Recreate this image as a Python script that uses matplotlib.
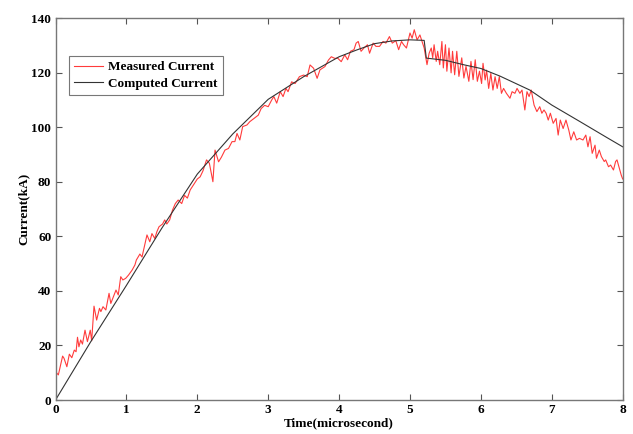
import numpy as np
import matplotlib
matplotlib.use('Agg')
import matplotlib.pyplot as plt

# Measured current, time in microseconds, current in kA
t_meas = [0.00, 0.04, 0.10, 0.12, 0.16, 0.195, 0.23, 0.265, 0.29, 0.31, 0.33, 0.355, 0.38,
          0.416, 0.45, 0.49, 0.51, 0.543, 0.58, 0.62, 0.64, 0.67, 0.71, 0.755, 0.78, 0.815,
          0.853, 0.885, 0.92, 0.95, 0.99, 1.03, 1.08, 1.12, 1.14, 1.19, 1.22, 1.29, 1.33,
          1.36, 1.40, 1.43, 1.46, 1.51, 1.54, 1.57, 1.61, 1.65, 1.69, 1.73, 1.78, 1.82, 1.86,
          1.90, 1.95, 2.00, 2.04, 2.08, 2.13, 2.17, 2.22, 2.25, 2.30, 2.34, 2.39, 2.44, 2.49,
          2.53, 2.56, 2.60, 2.64, 2.70, 2.74, 2.80, 2.86, 2.90, 2.95, 3.00, 3.05, 3.08, 3.12,
          3.17, 3.21, 3.25, 3.28, 3.33, 3.38, 3.44, 3.50, 3.55, 3.59, 3.64, 3.69, 3.73, 3.80,
          3.85, 3.89, 3.94, 3.98, 4.03, 4.08, 4.12, 4.16, 4.21, 4.24, 4.27, 4.31, 4.35, 4.40,
          4.43, 4.48, 4.52, 4.57, 4.62, 4.66, 4.71, 4.75, 4.80, 4.84, 4.88, 4.91, 4.95, 5.00,
          5.03, 5.06, 5.10, 5.14, 5.17, 5.20, 5.22, 5.24, 5.27, 5.30, 5.32, 5.34, 5.37, 5.39,
          5.42, 5.45, 5.47, 5.50, 5.52, 5.55, 5.58, 5.60, 5.63, 5.66, 5.69, 5.73, 5.76, 5.79,
          5.83, 5.86, 5.89, 5.92, 5.95, 5.98, 6.01, 6.03, 6.06, 6.08, 6.11, 6.14, 6.17, 6.20,
          6.23, 6.26, 6.29, 6.32, 6.36, 6.41, 6.44, 6.48, 6.51, 6.55, 6.58, 6.62, 6.65, 6.68,
          6.71, 6.75, 6.79, 6.83, 6.86, 6.89, 6.92, 6.95, 6.98, 7.02, 7.06, 7.09, 7.12, 7.16,
          7.20, 7.24, 7.27, 7.31, 7.35, 7.39, 7.44, 7.48, 7.51, 7.54, 7.57, 7.61, 7.63, 7.67,
          7.70, 7.74, 7.76, 7.80, 7.83, 7.87, 7.90, 7.92, 7.98, 8.00]
i_meas = [10.4, 9.2, 16.1, 15.3, 12.2, 16.8, 15.5, 18.3, 17.7, 23.0, 19.5, 22.0, 20.5,
          25.6, 21.4, 25.6, 21.7, 34.4, 29.3, 33.6, 32.4, 34.2, 33.0, 39.1, 35.4, 37.8,
          40.3, 38.5, 45.2, 44.0, 44.6, 45.8, 47.6, 49.5, 51.3, 53.5, 52.4, 60.5, 58.0,
          61.0, 59.2, 61.7, 63.5, 64.5, 66.0, 64.5, 66.0, 69.6, 72.0, 73.3, 72.0, 75.0, 74.0,
          77.0, 79.0, 81.0, 81.8, 84.0, 88.0, 86.8, 80.0, 91.6, 87.3, 89.0, 91.6, 92.2, 94.7,
          94.7, 97.7, 95.3, 100.2, 100.8, 102.0, 103.2, 104.4, 106.8, 108.0, 107.5, 110.0, 111.2, 108.8,
          113.0, 111.2, 114.2, 113.0, 116.6, 116.0, 118.5, 119.1, 118.5, 122.8, 121.6, 117.9, 121.0, 122.2,
          124.6, 125.8, 125.2, 125.3, 124.0, 126.5, 124.7, 127.8, 128.4, 130.8, 131.4, 127.8, 129.0, 130.2,
          127.1, 130.8, 129.6, 129.6, 131.4, 130.8, 133.2, 130.8, 131.7, 128.4, 131.4, 130.2, 129.0, 134.5,
          132.6, 135.7, 132.0, 133.8, 131.4, 129.0, 126.0, 122.9, 127.1, 129.0, 125.4, 130.2, 124.1, 127.8,
          122.9, 131.4, 121.7, 130.2, 120.5, 129.0, 119.9, 127.8, 119.2, 127.8, 118.6, 125.4, 118.0, 122.3,
          116.8, 124.1, 117.4, 124.7, 116.8, 120.5, 116.0, 123.4, 117.3, 120.9, 114.2, 119.7, 113.6, 118.5,
          114.2, 118.5, 112.4, 114.2, 112.4, 110.6, 113.0, 112.4, 114.2, 112.4, 113.6, 106.3, 113.0, 111.2,
          113.6, 108.1, 105.7, 107.5, 105.1, 106.3, 105.1, 102.6, 105.1, 101.4, 103.2, 97.1, 102.6, 99.5,
          102.6, 98.9, 95.3, 98.3, 95.3, 95.9, 95.3, 97.1, 92.8, 96.5, 90.4, 93.4, 88.6, 91.6,
          89.2, 87.4, 88.0, 85.5, 86.1, 84.3, 87.4, 88.0, 82.4, 81.0]

# Computed current
t_comp = [0.0, 0.5, 1.0, 1.5, 2.0, 2.5, 3.0, 3.5, 4.0, 4.25, 4.5, 4.75, 5.0, 5.2,
          5.23, 5.5, 5.77, 6.0, 6.27, 6.69, 7.0, 7.4, 7.77, 8.0]
i_comp = [0.0, 21.5, 42.0, 63.0, 82.8, 97.5, 110.2, 118.5, 125.8, 128.3, 130.6, 131.6, 132.0, 131.8,
          125.3, 124.5, 122.8, 121.5, 118.7, 113.6, 108.1, 102.0, 96.3, 92.8]

plt.rcParams['font.family'] = ['Liberation Serif', 'DejaVu Serif']
plt.rcParams['font.weight'] = 'bold'

fig = plt.figure(figsize=(6.33, 4.34), dpi=100, facecolor='white')
ax = fig.add_axes([0.0877, 0.0783, 0.8960, 0.8802])

ax.plot(t_meas, i_meas, color='#ff3b3b', lw=0.8, label='Measured Current')
ax.plot(t_comp, i_comp, color='#333333', lw=0.8, label='Computed Current')

ax.set_xlim(0, 8)
ax.set_ylim(0, 140)
ax.set_xticks(np.arange(0, 9, 1))
ax.set_yticks(np.arange(0, 141, 20))
ax.tick_params(direction='in', length=4, width=0.8, top=True, right=True,
               labelsize=9.5, color='#555555', pad=3)
for lab in ax.get_xticklabels() + ax.get_yticklabels():
    lab.set_fontweight('bold')
for s in ax.spines.values():
    s.set_color('#777777')
    s.set_linewidth(1.0)

ax.set_xlabel('Time(microsecond)', fontsize=9.5, fontweight='bold', labelpad=1)
ax.set_ylabel('Current(kA)', fontsize=9.5, fontweight='bold', labelpad=1.5)

leg = ax.legend(loc='upper left', bbox_to_anchor=(0.024, 0.901), borderaxespad=0,
                fancybox=False, edgecolor='#777777', fontsize=9.5, handlelength=2.2,
                handletextpad=0.35, framealpha=1, borderpad=0.4, labelspacing=0.3)
leg.get_frame().set_linewidth(0.8)

fig.savefig('out.png', dpi=100, facecolor='white')
